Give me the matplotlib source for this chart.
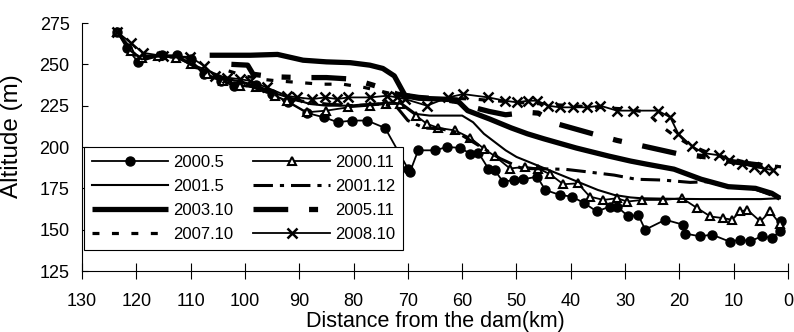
import numpy as np
import matplotlib
matplotlib.use("Agg")
import matplotlib.pyplot as plt

plt.rcParams['font.family'] = ['Liberation Sans', 'DejaVu Sans']
plt.rcParams['lines.scale_dashes'] = False

# distance from the dam (km) / altitude (m)
x_2000_5 = [123.5, 121.8, 119.7, 115.3, 112.5, 110, 107.5, 104.5, 102, 98, 95, 92, 88.6, 85.5,
            82.9, 80.3, 77.5, 74.2, 70, 69.6, 68.1, 65, 62.8, 60.4, 58.5, 57, 55.2, 54, 52.5,
            50.5, 48.8, 46.2, 44.7, 42, 39.8, 37.5, 35.2, 32.8, 31.5, 29.4, 27.6, 26.3, 22.6,
            19.3, 18.9, 16.2, 14, 10.7, 8.8, 7, 4.8, 3, 1.5, 1.3]
y_2000_5 = [269.5, 260, 251.5, 255.5, 255.5, 253, 244, 240, 237, 237.5, 232, 227, 220.6, 218,
            215, 216, 216, 211.5, 187, 185, 198, 198, 200, 199.5, 196, 196.5, 187, 186, 179,
            180, 180.5, 182, 174, 171, 170, 166, 161, 164, 164, 158, 159, 150, 156,
            153, 147.6, 146, 147, 142.7, 144, 143, 146, 145, 149, 155]

x_2000_11 = [123.5, 121, 119, 116, 112.7, 110, 107, 104, 101, 98, 94.5, 92.3, 88.6, 85, 81, 77,
             74, 71.4, 68.5, 66.5, 64.4, 61.3, 58.5, 56, 54, 51.2, 48.5, 46, 43.8, 41.4, 38.7,
             36.5, 34, 31.5, 29.6, 26.9, 23, 19.5, 16.7, 14.3, 12, 10.3, 8.8, 7.5, 5.1, 3.3, 1.5]
y_2000_11 = [269.5, 258, 254, 255, 254, 250, 244, 240, 237, 236, 231, 228, 221, 222, 224, 225,
             226, 226, 219, 214, 211.6, 210, 205.5, 199, 194.5, 187, 188, 187, 183.5, 177.5, 178,
             170, 168, 169, 167, 168, 168, 169, 163, 158, 157, 156, 161, 162, 155, 161, 153.6]

x_2001_5 = [123.5, 121, 119, 116, 112, 109, 106, 103, 100, 97, 94, 91, 88, 85, 81, 77, 73, 71,
            68.5, 66, 63, 60, 58, 56, 54, 52, 50, 47, 44, 41, 38, 35, 32, 29, 27, 22, 16, 10, 5, 1.5]
y_2001_5 = [269.5, 258, 253, 255, 254, 249, 245, 241, 239, 236, 232, 229, 226, 225, 225, 226, 227, 226,
            220, 219, 219, 219, 215, 208, 203, 198, 194, 190, 186, 182, 178, 174, 171, 169.5, 169,
            168.7, 168.5, 168.5, 168.5, 169]

x_2001_12 = [123.5, 120, 116, 112, 108, 104, 100, 95, 90, 85, 80, 75, 72, 70, 67, 64, 61, 57, 53,
             49, 45, 41, 37, 32, 28, 23, 18, 15, 11, 6, 1.5]
y_2001_12 = [269.5, 255, 255, 254, 246, 241, 238, 232, 228, 226, 225, 226, 224, 216, 211.5, 211, 209,
             201, 193, 187, 186.8, 186.5, 185, 183, 180.5, 180, 178.6, 179, 176, 174.5, 169]

x_2003_10 = [106.5, 99, 94, 89.3, 85, 80.6, 77, 74.6, 72.5, 71.5, 70.5, 68, 64, 61, 59, 55, 51, 48,
             45, 39, 33, 29, 26, 21, 16, 11, 6, 3, 1.5]
y_2003_10 = [255.5, 255.5, 256, 252.5, 251.5, 251, 249.5, 247.5, 243, 237, 231, 229.5, 229, 228.5,
             222, 217, 211.6, 208, 205, 199.4, 194.5, 191.5, 189.6, 186.6, 180.5, 176, 175, 172, 169]

x_2005_11 = [102.5, 99.5, 98.5, 95, 90, 85, 80, 76, 72, 68, 64, 60, 58, 55, 52, 48, 46, 42.5, 36,
             31.5, 26.7, 20.4, 15, 10, 5, 1.3]
y_2005_11 = [250, 249.5, 244, 242.5, 242, 242, 241, 237, 232, 230, 229, 227, 224, 221.5, 219.5, 221,
             220.5, 214, 208, 204, 200.6, 196, 194, 191, 189, 188]

x_2007_10 = [103, 100, 97, 94, 90, 86, 82, 78, 74, 70, 66, 62, 58, 54, 50, 45, 40, 35, 30, 26,
             23.5, 21, 18, 15, 12, 8, 4, 1.3]
y_2007_10 = [246, 243, 241, 240, 239, 238, 238, 236, 233, 230, 229, 229.5, 229, 228, 227, 226, 225,
             224, 223, 221, 213, 207, 201, 197, 194, 191, 189, 188]

x_2008_10 = [123.5, 121, 118.8, 115, 110.1, 107.5, 105.5, 103.3, 100.9, 99, 96, 92.3, 90.4, 87.6,
             85.2, 83, 81, 77, 73.8, 72, 70.5, 66.5, 62.6, 59.8, 55.2, 52.1, 49.9, 47.9, 46.2, 44.2,
             42, 39.6, 37, 34.6, 31.5, 28.5, 24, 21.7, 20.2, 17.7, 15.5, 12.7, 10.8, 8.4, 6.2, 4.5, 2.8]
y_2008_10 = [269.5, 263, 257, 255, 254.5, 249, 243, 242, 241, 240, 236, 231, 230, 229, 230, 229,
             230, 230, 231, 230, 229, 225, 230, 232, 230, 228, 227, 228, 228, 225, 224, 224, 224, 225,
             222, 222, 222, 218, 208, 200.5, 196.3, 195, 192, 190, 187.8, 187, 186]

x_ticks = list(range(130, -1, -10))
y_ticks = [125, 150, 175, 200, 225, 250, 275]

fig = plt.figure(figsize=(7.94, 3.32), dpi=100)
ax = fig.add_axes([0.1033, 0.1837, 0.8892, 0.747])

k = dict(color='black')
l_2000_5, = ax.plot(x_2000_5, y_2000_5, lw=1.3, marker='o', ms=6.5, label='2000.5', **k)
l_2000_11, = ax.plot(x_2000_11, y_2000_11, lw=1.3, marker='^', ms=6, mfc='white', mew=1.5,
                     label='2000.11', **k)
l_2001_5, = ax.plot(x_2001_5, y_2001_5, lw=1.5, label='2001.5', **k)
l_2001_12, = ax.plot(x_2001_12, y_2001_12, lw=2.2, ls=(0, (14, 5, 3, 5)), label='2001.12', **k)
l_2003_10, = ax.plot(x_2003_10, y_2003_10, lw=3.8, label='2003.10', solid_capstyle='butt', **k)
l_2005_11, = ax.plot(x_2005_11, y_2005_11, lw=3.8, ls=(0, (25, 15, 6.5, 15)), label='2005.11', **k)
l_2007_10, = ax.plot(x_2007_10, y_2007_10, lw=2.3, ls=(0, (5, 9)), label='2007.10', **k)
l_2008_10, = ax.plot(x_2008_10, y_2008_10, lw=1.3, marker='x', ms=7, mew=1.8, label='2008.10', **k)

ax.set_xlim(130, 0)
ax.set_ylim(125, 275)
ax.set_xticks(x_ticks)
ax.set_yticks(y_ticks)
ax.spines['top'].set_visible(False)
ax.spines['right'].set_visible(False)
ax.tick_params(axis='x', direction='inout', length=12, width=0.8, labelsize=13, pad=10)
ax.tick_params(axis='y', direction='in', length=4, width=0.8, labelsize=13, pad=9)

ax.set_xlabel('Distance from the dam(km)', fontsize=15.5)
ax.xaxis.set_label_coords(0.5, -0.163)
ax.set_ylabel('Altitude (m)', fontsize=17.5)
ax.yaxis.set_label_coords(-0.083, 0.545)

handles = [l_2000_5, l_2001_5, l_2003_10, l_2007_10, l_2000_11, l_2001_12, l_2005_11, l_2008_10]
leg = ax.legend(handles=handles, labels=[h.get_label() for h in handles], ncol=2,
                loc='upper left', bbox_to_anchor=(0.003, 0.5), borderaxespad=0,
                fontsize=12, handlelength=4.6, handletextpad=0.3, columnspacing=1.2,
                labelspacing=0.55, borderpad=0.45, fancybox=False, framealpha=1,
                edgecolor='black')
leg.get_frame().set_linewidth(0.8)

fig.savefig('out.png', dpi=100)
